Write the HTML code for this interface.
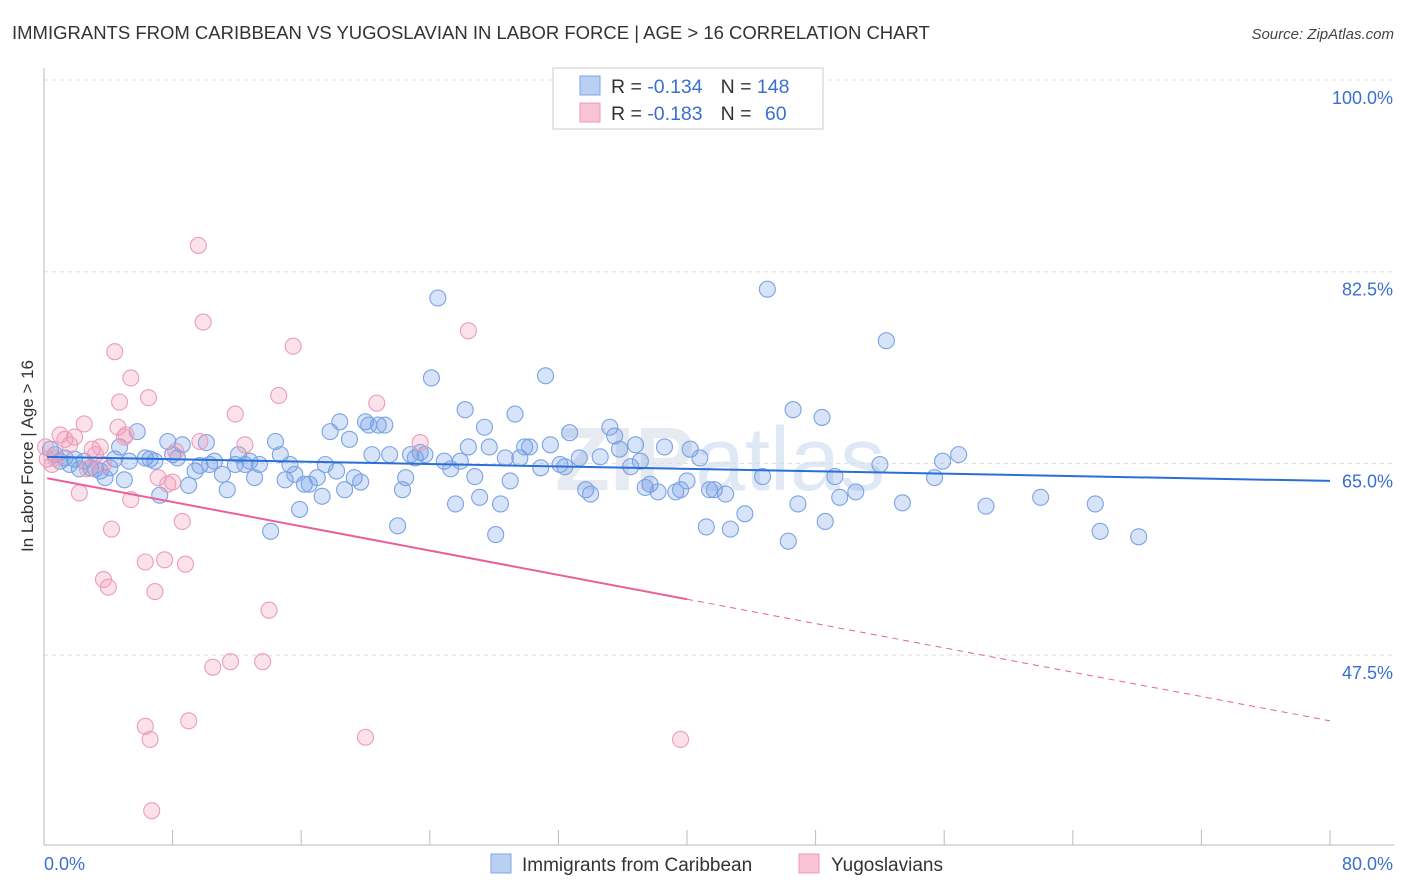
<!DOCTYPE html>
<html><head><meta charset="utf-8"><style>
body{margin:0;background:#fff;font-family:"Liberation Sans",sans-serif;}
#wrap{position:relative;width:1406px;height:892px;overflow:hidden;}
</style></head><body>
<div id="wrap">
<svg id="svg" width="1406" height="892" xmlns="http://www.w3.org/2000/svg">
<text x="12" y="39" font-size="18.5" fill="#333">IMMIGRANTS FROM CARIBBEAN VS YUGOSLAVIAN IN LABOR FORCE | AGE &gt; 16 CORRELATION CHART</text>
<text x="1394" y="39" font-size="15" fill="#444" font-style="italic" text-anchor="end">Source: ZipAtlas.com</text>
<text x="720" y="490" font-size="90" fill="#e6ebf2" font-weight="bold" text-anchor="middle">ZIP<tspan font-weight="normal" fill="#dfe8f5">atlas</tspan></text>
<text transform="translate(33,456) rotate(-90)" font-size="17" fill="#333" text-anchor="middle">In Labor Force | Age &gt; 16</text>
<g id="grid"></g><g id="axes"></g><g id="pts"></g><g id="trend"></g>
<g>
<rect x="553" y="68" width="270" height="61" fill="#fff" stroke="#ccc"/>
<rect x="580" y="76" width="20" height="19" fill="#b9d0f3" stroke="#7ea4e3"/>
<rect x="580" y="103" width="20" height="19" fill="#f8c4d4" stroke="#ec9ab6"/>
<text x="611" y="93" font-size="19.5" fill="#333">R = <tspan fill="#3a6fd0">-0.134</tspan><tspan dx="18">N = </tspan><tspan fill="#3a6fd0">148</tspan></text>
<text x="611" y="120" font-size="19.5" fill="#333">R = <tspan fill="#3a6fd0">-0.183</tspan><tspan dx="18">N = </tspan><tspan fill="#3a6fd0" dx="8">60</tspan></text>
</g>
<g>
<rect x="491" y="854" width="20" height="19" fill="#b9d0f3" stroke="#7ea4e3"/>
<text x="522" y="871" font-size="19" fill="#333">Immigrants from Caribbean</text>
<rect x="799" y="854" width="20" height="19" fill="#f8c4d4" stroke="#ec9ab6"/>
<text x="831" y="871" font-size="19" fill="#333">Yugoslavians</text>
</g>
</svg></div>
<script>
const blueX=[0.4,0.7,1.0,1.3,1.6,1.9,2.2,2.5,2.9,3.2,3.5,3.8,4.1,4.4,4.7,5.0,5.3,5.8,6.3,6.6,6.9,7.2,7.7,8.0,8.3,8.6,9.0,9.4,9.7,10.1,10.3,10.6,11.1,11.4,11.9,12.1,12.5,12.8,13.1,13.4,14.1,14.4,14.7,15.0,15.3,15.6,15.9,16.2,16.5,17.0,17.3,17.5,17.8,18.2,18.4,18.7,19.0,19.3,19.7,20.0,20.2,20.4,20.8,21.2,21.5,22.0,22.3,22.5,22.8,23.1,23.4,23.7,24.1,24.5,24.9,25.3,25.6,25.9,26.2,26.4,26.8,27.1,27.4,27.7,28.1,28.4,28.7,29.0,29.3,29.6,29.9,30.2,30.9,31.2,31.5,32.1,32.4,32.7,33.3,33.7,34.0,34.6,35.2,35.5,35.8,36.5,36.8,37.1,37.4,37.7,38.2,38.6,39.3,39.6,40.0,40.2,40.8,41.2,41.4,41.7,42.4,42.7,43.6,44.7,45.0,46.3,46.6,46.9,48.4,48.6,49.2,49.5,50.5,52.0,52.4,53.4,55.4,55.9,56.9,58.6,62.0,65.4,65.7,68.1];
const blueY=[66.3,65.8,65.2,65.5,64.9,65.4,64.5,65.2,64.6,64.5,64.3,63.7,64.6,65.4,66.5,63.5,65.2,67.9,65.5,65.4,65.2,62.1,67.0,65.8,65.5,66.7,63.0,64.3,64.8,66.9,64.9,65.2,64.0,62.6,64.9,65.8,64.9,65.2,63.7,64.9,58.8,67.0,65.8,63.5,64.9,64.0,60.8,63.1,63.1,63.7,62.0,64.9,67.9,64.3,68.8,62.6,67.2,63.7,63.3,68.8,68.5,65.8,68.5,68.5,65.8,59.3,62.6,63.7,65.8,65.5,66.0,65.8,72.8,80.1,65.2,64.5,61.3,65.2,69.9,66.5,63.8,61.9,68.3,66.5,58.5,61.3,65.5,63.4,69.5,65.5,66.5,66.5,64.6,73.0,66.7,64.9,64.7,67.8,65.5,62.6,62.2,65.6,68.3,67.5,66.3,64.7,66.7,65.2,62.8,63.1,62.4,66.5,62.4,62.6,63.4,66.3,65.5,59.2,62.6,62.6,62.2,59.0,60.4,63.8,80.9,57.9,69.9,61.3,69.2,59.7,63.8,61.9,62.4,64.9,76.2,61.4,63.7,65.2,65.8,61.1,61.9,61.3,58.8,58.3];
const pinkX=[0.1,0.2,0.5,0.7,1.0,1.3,1.6,1.9,2.2,2.5,2.7,3.0,3.2,3.5,3.7,4.0,4.2,4.4,4.6,4.7,5.0,5.1,5.4,5.4,6.3,6.3,6.5,6.6,6.7,6.9,7.1,7.5,7.7,8.0,8.2,8.6,8.8,9.0,9.6,9.7,9.9,10.5,11.6,11.9,12.5,13.6,14.0,14.6,15.5,20.0,20.7,23.4,26.4,39.6,3.7];
const pinkY=[66.5,65.4,64.9,65.5,67.6,67.2,66.7,67.4,62.3,68.6,64.5,66.3,65.8,66.5,64.9,53.7,59.0,75.2,68.3,70.6,67.4,67.6,61.7,72.8,56.0,41.0,71.0,39.8,33.3,53.3,63.7,56.2,63.1,63.3,66.1,59.7,55.8,41.5,84.9,67.0,77.9,46.4,46.9,69.5,66.7,46.9,51.6,71.2,75.7,40.0,70.5,66.9,77.1,39.8,54.4];
const blueTrend=[65.6,63.4];
const pinkTrend=[63.7,41.5];
const pinkSolidEnd=40;
const yTicks=[100,82.5,65,47.5];
const xTicks=[8,16,24,32,40,48,56,64,72,80];
const NS='http://www.w3.org/2000/svg';
const sx=v=>44+v/80*1286;
const sy=v=>80+(100-v)/17.5*191.7;
function mk(tag,attrs,parent){const e=document.createElementNS(NS,tag);for(const k in attrs)e.setAttribute(k,attrs[k]);document.getElementById(parent).appendChild(e);return e;}
yTicks.forEach(t=>{
 const l=mk('line',{x1:44,x2:1394,y1:sy(t),y2:sy(t),stroke:'#ddd','stroke-dasharray':'4,4'},'grid');
 
 
 const tx=mk('text',{x:1393,y:sy(t)+24,'font-size':18,fill:'#3a6fd0','text-anchor':'end'},'grid');
 tx.textContent=t.toFixed(1)+'%';
 
 
});
let ax=mk('line',{x1:44,x2:44,y1:68,y2:845,stroke:'#bbb'},'axes');


ax=mk('line',{x1:44,x2:1394,y1:845,y2:845,stroke:'#bbb'},'axes');


xTicks.forEach(t=>{
 const l=mk('line',{x1:sx(t),x2:sx(t),y1:830,y2:845,stroke:'#bbb'},'axes');
 
 
});
[[0,'0.0%','start',44],[80,'80.0%','end',1393]].forEach(a=>{
 const tx=mk('text',{x:a[3],y:870,'font-size':18,fill:'#3a6fd0','text-anchor':a[2]},'axes');
 tx.textContent=a[1];
 
 
});
function pts(X,Y,fill,stroke,name){X.forEach((x,i)=>{
 const c=mk('circle',{cx:sx(x),cy:sy(Y[i]),r:8,fill:fill,stroke:stroke,'stroke-width':1.1},'pts');
 
 
});}
pts(blueX,blueY,'rgba(110,155,230,0.28)','#7aa3e3','caribbean-point');
pts(pinkX,pinkY,'rgba(240,150,180,0.28)','#eb9cba','yugoslavian-point');
let t=mk('line',{x1:sx(0.2),y1:sy(blueTrend[0]+(blueTrend[1]-blueTrend[0])*0.2/80),x2:sx(80),y2:sy(blueTrend[1]),stroke:'#2a6fd6','stroke-width':2},'trend');


const pv=x=>pinkTrend[0]+(pinkTrend[1]-pinkTrend[0])*x/80;
t=mk('line',{x1:sx(0.2),y1:sy(pv(0.2)),x2:sx(pinkSolidEnd),y2:sy(pv(pinkSolidEnd)),stroke:'#e8609a','stroke-width':2},'trend');


t=mk('line',{x1:sx(pinkSolidEnd),y1:sy(pv(pinkSolidEnd)),x2:sx(80),y2:sy(pv(80)),stroke:'#e8609a','stroke-width':1,'stroke-dasharray':'6,5'},'trend');


</script>
</body></html>
